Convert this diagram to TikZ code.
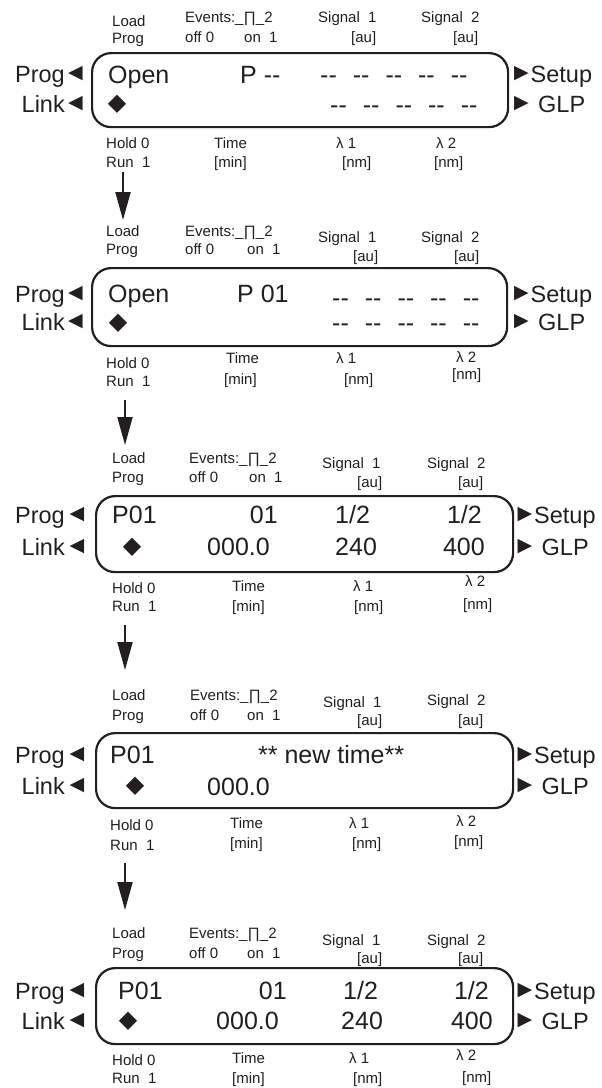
\documentclass[tikz,border=0pt]{standalone}
\usepackage{fontspec}
\setmainfont{Liberation Sans}
\newfontfamily\symfont{DejaVu Sans}
\usetikzlibrary{arrows.meta}
\definecolor{ink}{RGB}{35,31,32}
\newcommand\lblfont{\fontsize{15}{17}\selectfont}
\newcommand\lcdfont{\fontsize{25}{29}\selectfont}
\newcommand\sidefont{\fontsize{23.5}{28}\selectfont}
\newcommand\dsh{-\kern0pt-}
\newcommand\dashrow{\dsh\hspace{16pt}\dsh\hspace{16pt}\dsh\hspace{16pt}\dsh\hspace{16pt}\dsh}
\tikzset{
  lbl/.style={font=\lblfont, inner sep=0pt, anchor=base west, text=ink},
  lcd/.style={font=\lcdfont, inner sep=0pt, anchor=base west, text=ink},
  lcdr/.style={lcd, anchor=base east},
  side/.style={font=\sidefont, inner sep=0pt, anchor=base west, text=ink},
  tri/.style={font=\symfont\fontsize{19}{20}\selectfont, inner sep=0pt, anchor=center, text=ink},
  dia/.style={font=\symfont\fontsize{24}{26}\selectfont, inner sep=0pt, anchor=center, text=ink},
  panel/.style={draw=ink, line width=2.2pt, rounded corners=19pt, anchor=north west, inner sep=0pt},
  flow/.style={draw=ink, line width=2pt, -{Triangle[length=28pt,width=15pt]}}
}
\newcommand\sidelabels[5]{%
  \node[side, anchor=base east, yshift=-8.4pt] (#1progl) at (65,#2) {Prog};
  \node[tri] (#1progt) at (#4,#2) {◀};
  \node[side, anchor=base east, yshift=-8.4pt] (#1linkl) at (65,#3) {Link};
  \node[tri] (#1linkt) at (#4,#3) {◀};
  \node[tri] (#1setupt) at (#5,#2) {▶};
  \node[side, yshift=-8.4pt, xshift=9pt] (#1setup) at (#5,#2) {Setup};
  \node[tri] (#1glpt) at (#5,#3) {▶};
  \node[side, yshift=-8.4pt, xshift=16.5pt] (#1glp) at (#5,#3) {GLP};
}
\begin{document}
\begin{tikzpicture}[x=1pt,y=-1pt]
\useasboundingbox[fill=white] (0,0) rectangle (602,1088);

% ---------------- Panel 1
\node[lbl] (p1load) at (112,26) {Load};
\node[lbl] (p1prog) at (112,43) {Prog};
\node[lbl] (p1ev) at (185,22) {Events:\_∏\_2};
\node[lbl] (p1off) at (185,42) {off 0};
\node[lbl] (p1on) at (244,42) {on\ \ 1};
\node[lbl] (p1s1) at (318,22) {Signal\ \ 1};
\node[lbl] (p1au1) at (351,42) {[au]};
\node[lbl] (p1s2) at (421,22) {Signal\ \ 2};
\node[lbl] (p1au2) at (453,42) {[au]};
\node[panel, minimum width=416pt, minimum height=74pt] (p1box) at (91,52) {};
\sidelabels{p1}{74}{104}{75.5}{521.5}
\node[lcd] (p1open) at (108,83) {Open};
\node[lcd] (p1pnum) at (240,83) {P \dsh};
\node[lcd] (p1r1) at (320,83) {\dashrow};
\node[dia] (p1dia) at (117,104) {◆};
\node[lcd] (p1r2) at (330,113) {\dashrow};
\node[lbl] (p1hold) at (106,148) {Hold 0};
\node[lbl] (p1run) at (106,167) {Run\ \ 1};
\node[lbl] (p1time) at (214,148) {Time};
\node[lbl] (p1min) at (214,167) {[min]};
\node[lbl] (p1l1) at (336,148) {λ 1};
\node[lbl] (p1nm1) at (342,167) {[nm]};
\node[lbl] (p1l2) at (436,148) {λ 2};
\node[lbl] (p1nm2) at (434,167) {[nm]};
\coordinate (a1s) at (123,172);
\coordinate (a1e) at (123,220);
\draw[flow] (a1s) -- (a1e);

% ---------------- Panel 2
\node[lbl] (p2load) at (106,236) {Load};
\node[lbl] (p2prog) at (106,254) {Prog};
\node[lbl] (p2ev) at (185,236) {Events:\_∏\_2};
\node[lbl] (p2off) at (185,254) {off 0};
\node[lbl] (p2on) at (247,254) {on\ \ 1};
\node[lbl] (p2s1) at (318,242) {Signal\ \ 1};
\node[lbl] (p2au1) at (353,261) {[au]};
\node[lbl] (p2s2) at (421,242) {Signal\ \ 2};
\node[lbl] (p2au2) at (454,261) {[au]};
\node[panel, minimum width=415pt, minimum height=78pt] (p2box) at (91,267) {};
\sidelabels{p2}{294}{322}{75.5}{521.5}
\node[lcd] (p2open) at (108,302.6) {Open};
\node[lcd] (p2pnum) at (237,302.6) {P 01};
\node[lcd] (p2r1) at (332,306) {\dashrow};
\node[dia] (p2dia) at (118,323) {◆};
\node[lcd] (p2r2) at (332,331) {\dashrow};
\node[lbl] (p2hold) at (106,368) {Hold 0};
\node[lbl] (p2run) at (106,386) {Run\ \ 1};
\node[lbl] (p2time) at (226,363) {Time};
\node[lbl] (p2min) at (224,384) {[min]};
\node[lbl] (p2l1) at (336,363) {λ 1};
\node[lbl] (p2nm1) at (344,384) {[nm]};
\node[lbl] (p2l2) at (456,362) {λ 2};
\node[lbl] (p2nm2) at (452,379) {[nm]};
\coordinate (a2s) at (125,400);
\coordinate (a2e) at (125,445);
\draw[flow] (a2s) -- (a2e);

% ---------------- Panel 3
\node[lbl] (p3load) at (112,463) {Load};
\node[lbl] (p3prog) at (112,482) {Prog};
\node[lbl] (p3ev) at (189,463) {Events:\_∏\_2};
\node[lbl] (p3off) at (189,482) {off 0};
\node[lbl] (p3on) at (249,482) {on\ \ 1};
\node[lbl] (p3s1) at (322,468) {Signal\ \ 1};
\node[lbl] (p3au1) at (357,487) {[au]};
\node[lbl] (p3s2) at (427,468) {Signal\ \ 2};
\node[lbl] (p3au2) at (458,487) {[au]};
\node[panel, minimum width=417pt, minimum height=76pt] (p3box) at (95,495) {};
\sidelabels{p3}{515}{547}{77}{525}
\node[lcd] (p3p01) at (112,523.6) {P01};
\node[lcdr] (p3ev01) at (278,523.6) {01};
\node[lcd] (p3sa) at (335,523.6) {1/2};
\node[lcdr] (p3sb) at (482,523.6) {1/2};
\node[dia] (p3dia) at (132,547) {◆};
\node[lcd] (p3t) at (207,555.6) {000.0};
\node[lcd] (p3wa) at (335,555.6) {240};
\node[lcdr] (p3wb) at (485,555.6) {400};
\node[lbl] (p3hold) at (112,593) {Hold 0};
\node[lbl] (p3run) at (112,611) {Run\ \ 1};
\node[lbl] (p3time) at (232,591) {Time};
\node[lbl] (p3min) at (232,611) {[min]};
\node[lbl] (p3l1) at (353,591) {λ 1};
\node[lbl] (p3nm1) at (354,611) {[nm]};
\node[lbl] (p3l2) at (465,586) {λ 2};
\node[lbl] (p3nm2) at (463,609) {[nm]};
\coordinate (a3s) at (125,625);
\coordinate (a3e) at (125,670);
\draw[flow] (a3s) -- (a3e);

% ---------------- Panel 4
\node[lbl] (p4load) at (112,700) {Load};
\node[lbl] (p4prog) at (112,720) {Prog};
\node[lbl] (p4ev) at (190,700) {Events:\_∏\_2};
\node[lbl] (p4off) at (190,720) {off 0};
\node[lbl] (p4on) at (247,720) {on\ \ 1};
\node[lbl] (p4s1) at (323,707) {Signal\ \ 1};
\node[lbl] (p4au1) at (357,725) {[au]};
\node[lbl] (p4s2) at (427,705) {Signal\ \ 2};
\node[lbl] (p4au2) at (458,725) {[au]};
\node[panel, minimum width=417pt, minimum height=75pt] (p4box) at (95,732) {};
\sidelabels{p4}{755}{786}{77}{525}
\node[lcd] (p4p01) at (110,763) {P01};
\node[lcd] (p4msg) at (258,763) {** new time**};
\node[dia] (p4dia) at (135,786) {◆};
\node[lcd] (p4t) at (207,795) {000.0};
\node[lbl] (p4hold) at (110,830) {Hold 0};
\node[lbl] (p4run) at (110,850) {Run\ \ 1};
\node[lbl] (p4time) at (230,828) {Time};
\node[lbl] (p4min) at (230,848) {[min]};
\node[lbl] (p4l1) at (349,828) {λ 1};
\node[lbl] (p4nm1) at (352,848) {[nm]};
\node[lbl] (p4l2) at (456,826) {λ 2};
\node[lbl] (p4nm2) at (454,846) {[nm]};
\coordinate (a4s) at (125,863);
\coordinate (a4e) at (125,910);
\draw[flow] (a4s) -- (a4e);

% ---------------- Panel 5
\node[lbl] (p5load) at (112,938) {Load};
\node[lbl] (p5prog) at (112,958) {Prog};
\node[lbl] (p5ev) at (189,938) {Events:\_∏\_2};
\node[lbl] (p5off) at (189,958) {off 0};
\node[lbl] (p5on) at (247,958) {on\ \ 1};
\node[lbl] (p5s1) at (322,945) {Signal\ \ 1};
\node[lbl] (p5au1) at (357,963) {[au]};
\node[lbl] (p5s2) at (427,945) {Signal\ \ 2};
\node[lbl] (p5au2) at (458,963) {[au]};
\node[panel, minimum width=417pt, minimum height=76pt] (p5box) at (95,967) {};
\sidelabels{p5}{991}{1021}{77}{525}
\node[lcd] (p5p01) at (118,999.6) {P01};
\node[lcdr] (p5ev01) at (287,999.6) {01};
\node[lcd] (p5sa) at (343,999.6) {1/2};
\node[lcdr] (p5sb) at (489,999.6) {1/2};
\node[dia] (p5dia) at (128,1021) {◆};
\node[lcd] (p5t) at (216,1029.6) {000.0};
\node[lcd] (p5wa) at (341,1029.6) {240};
\node[lcdr] (p5wb) at (493,1029.6) {400};
\node[lbl] (p5hold) at (112,1065) {Hold 0};
\node[lbl] (p5run) at (112,1083) {Run\ \ 1};
\node[lbl] (p5time) at (232,1063) {Time};
\node[lbl] (p5min) at (232,1083) {[min]};
\node[lbl] (p5l1) at (349,1063) {λ 1};
\node[lbl] (p5nm1) at (353,1083) {[nm]};
\node[lbl] (p5l2) at (456,1060) {λ 2};
\node[lbl] (p5nm2) at (462,1082) {[nm]};
\end{tikzpicture}
\end{document}
